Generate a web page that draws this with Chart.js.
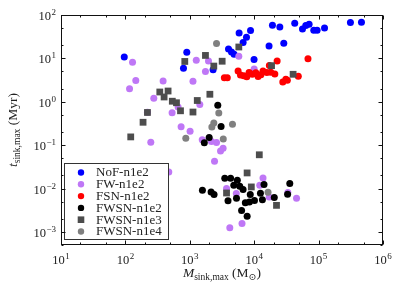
<!DOCTYPE html>
<html>
<head>
<meta charset="utf-8">
<script src="https://cdn.jsdelivr.net/npm/chart.js@4.4.0/dist/chart.umd.min.js"></script>
<style>
  html, body { margin: 0; padding: 0; background: #fff; }
</style>
</head>
<body>
<canvas id="myChart" width="407" height="285"></canvas>
<script>
// axis limits and tick labels (powers of ten)
const xMin = 10, xMax = 1e6;
const yMin = 5e-4, yMax = 100;
const xTickPowers = [1, 2, 3, 4, 5, 6];
const yTickPowers = [-3, -2, -1, 0, 1, 2];
const minorSubs = [2, 5];

const seriesNames = ['NoF-n1e2', 'FW-n1e2', 'FSN-n1e2', 'FWSN-n1e2', 'FWSN-n1e3', 'FWSN-n1e4'];

// M_sink,max (Msun) and t_sink,max (Myr)
const nofMass = [96, 898, 798, 2300, 5830, 6730, 7590, 8770, 3990, 4440, 4870, 9950, 17000,
    19200, 25000, 28800, 42600, 56200, 63300, 71200, 84200, 94800, 123600, 312000, 463000];
const nofTime = [10.8, 13.8, 5.9, 5.5, 38.4, 23.1, 30.6, 43.7, 16.5, 14.0, 12.4, 9.4, 19.3,
    58, 53, 22.3, 64.4, 47.5, 57, 61, 44.4, 44.4, 50, 66.9, 67.9];

const fwMass = [129, 145, 116, 385, 276, 220, 531, 658, 1120, 1260, 1950, 1750, 1430, 733, 1010,
    248, 1560, 2170, 2600, 3000, 3290, 2420, 472, 13700, 12200, 3720, 5270, 17100, 33300, 45400,
    4180, 6470, 5770, 9980];
const fwTime = [8.1, 3.1, 2.0, 3.0, 1.2, 0.57, 0.56, 0.76, 2.97, 9.0, 8.7, 5.0, 0.87, 0.265, 0.209,
    0.117, 0.133, 0.121, 0.115, 0.073, 0.085, 0.0426, 0.0241, 0.0175, 0.0119, 0.0100, 0.0077, 0.0064,
    0.0081, 0.0060, 0.00125, 0.00156, 11.2, 5.7];

const fsnMass = [3440, 3820, 5620, 6120, 6890, 7670, 8330, 9340, 10600, 11500, 12700, 13700,
    15700, 18100, 20900, 17200, 22700, 27800, 31000, 32700, 48400, 68400];
const fsnTime = [3.6, 3.6, 5.1, 4.15, 3.97, 3.77, 4.71, 4.3, 4.65, 3.81, 4.19, 5.1,
    4.71, 4.79, 4.38, 6.85, 8.7, 2.86, 3.3, 3.13, 3.87, 9.8];

const fwsn2Mass = [2720, 3060, 2000, 1680, 1570, 2140, 2380, 3490, 4300, 5470, 4820, 5970, 6720,
    3920, 5310, 8690, 12500, 14200, 35700, 33000, 20500, 7280, 8420, 10100, 13400, 6370, 7770];
const fwsn2Time = [0.83, 0.268, 0.150, 0.114, 0.0091, 0.0083, 0.0073, 0.0173, 0.0173, 0.0155,
    0.0119, 0.0113, 0.0095, 0.0052, 0.0060, 0.0073, 0.0078, 0.0124, 0.0130, 0.0074, 0.0062,
    0.0047, 0.0049, 0.0053, 0.0055, 0.0031, 0.0023];

const fwsn3Mass = [121, 188, 220, 342, 460, 399, 535, 621, 717, 1306, 1120, 2050, 836, 1750,
    2360, 3180, 5770, 18600, 40200, 12000, 7760, 9020, 3720, 22200];
const fwsn3Time = [0.155, 0.337, 0.567, 1.68, 1.77, 1.29, 1.03, 0.95, 0.62, 1.07, 0.58, 1.49,
    8.5, 11.7, 6.65, 8.6, 18.3, 6.8, 4.3, 0.060, 0.0229, 0.0109, 0.0079, 0.0041];

const fwsn4Mass = [2600, 2820, 2360, 2200, 4600, 867, 3310, 16400];
const fwsn4Time = [21.9, 0.552, 0.325, 0.262, 0.303, 0.144, 0.138, 0.0082];

const seriesMass = [nofMass, fwMass, fsnMass, fwsn2Mass, fwsn3Mass, fwsn4Mass];
const seriesTime = [nofTime, fwTime, fsnTime, fwsn2Time, fwsn3Time, fwsn4Time];
const seriesColors = ['#0000ff', '#bf77f6', '#ff0000', '#000000', '#4d4d4d', '#808080'];
const seriesShapes = ['circle', 'circle', 'circle', 'circle', 'rect', 'circle'];

const serif = "'Liberation Serif', 'DejaVu Serif', serif";

function zip(xs, ys) {
    return xs.map(function(x, i) {
        return {x: x, y: ys[i]};
    });
}

// "10" with a raised exponent; align = 'center' or 'right'
function drawPow(ctx, p, x, y, align) {
    const base = '10';
    const exp = p < 0 ? '\u2212' + (-p) : String(p);
    ctx.font = '12.5px ' + serif;
    const wb = ctx.measureText(base).width;
    ctx.font = '9px ' + serif;
    const we = ctx.measureText(exp).width;
    const w = wb + we + 0.5;
    let x0 = align === 'right' ? x - w : x - w / 2;
    ctx.textAlign = 'left';
    ctx.textBaseline = 'alphabetic';
    ctx.font = '12.5px ' + serif;
    ctx.fillText(base, x0, y);
    ctx.font = '9px ' + serif;
    ctx.fillText(exp, x0 + wb + 0.5, y - 5);
}

// pieces: [text, font, dy]
function drawRich(ctx, pieces, x, y) {
    let w = 0;
    pieces.forEach(function(p) {
        ctx.font = p[1];
        w += ctx.measureText(p[0]).width;
    });
    let cx = x - w / 2;
    ctx.textAlign = 'left';
    ctx.textBaseline = 'alphabetic';
    pieces.forEach(function(p) {
        ctx.font = p[1];
        ctx.fillText(p[0], cx, y + p[2]);
        cx += ctx.measureText(p[0]).width;
    });
}

const axesPlugin = {
    id: 'axesPlugin',
    afterDraw(chart) {
        const ctx = chart.ctx;
        const a = chart.chartArea;
        const xs = chart.scales.x, ys = chart.scales.y;
        const L = Math.round(a.left) + 0.5, R = Math.round(a.right) - 0.5;
        const T = Math.round(a.top) + 0.5, B = Math.round(a.bottom) - 0.5;
        ctx.save();

        // legend box
        const lx = 64.5, ly = 163.5, lw = 104, lh = 76;
        ctx.fillStyle = '#fff';
        ctx.strokeStyle = '#333';
        ctx.lineWidth = 1;
        ctx.fillRect(lx, ly, lw, lh);
        ctx.strokeRect(lx, ly, lw, lh);
        seriesNames.forEach(function(name, i) {
            const cy = 172.5 + i * 11.8;
            ctx.fillStyle = seriesColors[i];
            if (seriesShapes[i] === 'rect') {
                ctx.fillRect(81 - 3.3, cy - 3.3, 6.6, 6.6);
            } else {
                ctx.beginPath();
                ctx.arc(81, cy, 3.2, 0, Math.PI * 2);
                ctx.fill();
            }
            ctx.fillStyle = '#222';
            ctx.font = '13px ' + serif;
            ctx.textAlign = 'left';
            ctx.textBaseline = 'middle';
            ctx.fillText(name, 96, cy + 0.5);
        });

        // frame
        ctx.strokeStyle = '#111';
        ctx.lineWidth = 1;
        ctx.strokeRect(L, T, R - L, B - T);

        // inward ticks on all four sides
        ctx.beginPath();
        for (let p = 0; p <= 6; p++) {
            [1].concat(minorSubs).forEach(function(s) {
                const v = s * Math.pow(10, p);
                if (v < xMin || v > xMax) return;
                const px = Math.round(xs.getPixelForValue(v)) + 0.5;
                const len = s === 1 ? 4 : 2;
                ctx.moveTo(px, B); ctx.lineTo(px, B - len);
                ctx.moveTo(px, T); ctx.lineTo(px, T + len);
            });
        }
        for (let p = -4; p <= 2; p++) {
            [1].concat(minorSubs).forEach(function(s) {
                const v = s * Math.pow(10, p);
                if (v < yMin || v > yMax) return;
                const py = Math.round(ys.getPixelForValue(v)) + 0.5;
                const len = s === 1 ? 4 : 2;
                ctx.moveTo(L, py); ctx.lineTo(L + len, py);
                ctx.moveTo(R, py); ctx.lineTo(R - len, py);
            });
        }
        ctx.stroke();

        // tick labels
        ctx.fillStyle = '#222';
        xTickPowers.forEach(function(p) {
            drawPow(ctx, p, xs.getPixelForValue(Math.pow(10, p)), 264, 'center');
        });
        yTickPowers.forEach(function(p) {
            drawPow(ctx, p, a.left - 5, ys.getPixelForValue(Math.pow(10, p)) + 5, 'right');
        });

        // axis titles
        const big = '13.5px ' + serif, bigI = 'italic 13.5px ' + serif, small = '9.5px ' + serif;
        drawRich(ctx, [
            ['M', bigI, 0], ['sink,max', small, 3], [' (M', big, 0], ['\u2299', small, 3], [')', big, 0]
        ], (a.left + a.right) / 2, 277);

        ctx.translate(16.5, (a.top + a.bottom) / 2);
        ctx.rotate(-Math.PI / 2);
        drawRich(ctx, [
            ['t', bigI, 0], ['sink,max', small, 3], [' (Myr)', big, 0]
        ], 0, 0);

        ctx.restore();
    }
};

const datasets = seriesNames.map(function(name, i) {
    return {
        label: name,
        data: zip(seriesMass[i], seriesTime[i]),
        backgroundColor: seriesColors[i],
        borderColor: seriesColors[i],
        borderWidth: 0,
        pointStyle: seriesShapes[i],
        pointRadius: seriesShapes[i] === 'rect' ? 4.8 : 3.5,
        order: -i
    };
});

const myChart = new Chart(document.getElementById('myChart'), {
    type: 'scatter',
    data: {datasets: datasets},
    options: {
        responsive: false,
        devicePixelRatio: 1,
        animation: false,
        events: [],
        layout: {padding: {left: 61, top: 15, right: 24, bottom: 40}},
        scales: {
            x: {type: 'logarithmic', min: xMin, max: xMax, display: false},
            y: {type: 'logarithmic', min: yMin, max: yMax, display: false}
        },
        plugins: {
            legend: {display: false},
            tooltip: {enabled: false}
        }
    },
    plugins: [axesPlugin]
});
</script>
</body>
</html>
